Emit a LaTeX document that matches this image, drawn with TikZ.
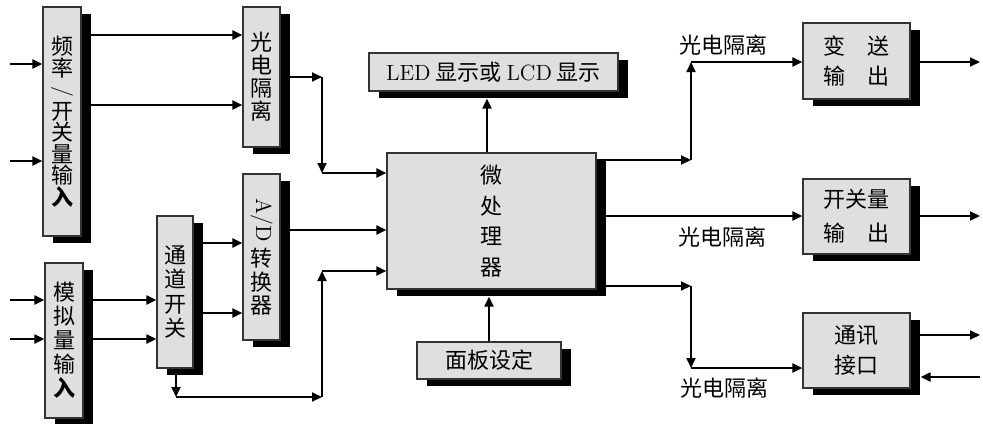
\documentclass[tikz,border=0pt]{standalone}
\usepackage{fontspec}
\usepackage{graphicx}
\newfontfamily\cjk{Noto Sans CJK SC}
\usetikzlibrary{arrows.meta}
\usetikzlibrary{shadows}
\tikzstyle{blk} = [draw=black!80, line width=0.6pt, fill=gray!25, inner sep=0pt, align=center, drop shadow={shadow xshift=5pt, shadow yshift=-3.5pt, fill=black, opacity=1}]
\tikzstyle{arr} = [line width=1pt, -{Triangle[length=5pt,width=4.5pt]}]
\tikzstyle{lbl} = [inner sep=0pt, font=\cjk\fontsize{11}{11}\selectfont]
\tikzset{txt/.style={font=\cjk\fontsize{11}{#1}\selectfont}}

\begin{document}
\begin{tikzpicture}[x=0.5pt, y=-0.5pt]
\useasboundingbox (0,0) rectangle (983,423);

% Define nodes
\node[blk, txt=10.75pt, minimum width=19pt, minimum height=114.5pt]  (fin)   at (62,121.5)  {频\\率\\\rotatebox[origin=c]{-90}{\rmfamily /}\\开\\关\\量\\输\\{\bfseries 入}};
\node[blk, txt=11.5pt, minimum width=18.5pt, minimum height=70pt]    (gd)    at (261.5,77)  {光\\电\\隔\\离};
\node[blk, txt=11.75pt, minimum width=18.5pt, minimum height=83pt]   (ad)    at (261.5,257) {\rotatebox[origin=c]{-90}{\rmfamily A/D}\\[2pt]转\\换\\器};
\node[blk, txt=12.25pt, minimum width=18pt, minimum height=76pt]     (mux)   at (175,292)   {通\\道\\开\\关};
\node[blk, txt=12pt, minimum width=19pt, minimum height=77.5pt]      (ain)   at (64,340.5)  {模\\拟\\量\\输\\{\bfseries 入}};
\node[blk, txt=15.25pt, minimum width=104.5pt, minimum height=68pt]  (cpu)   at (491.5,221) {微\\处\\理\\器};
\node[blk, txt=11pt, minimum width=124.5pt, minimum height=19pt]     (led)   at (493.5,72)  {{\rmfamily LED} 显示或 {\rmfamily LCD} 显示};
\node[blk, txt=11pt, minimum width=72pt, minimum height=18.5pt]      (panel) at (489,360.5) {面板设定};
\node[blk, txt=15pt, minimum width=53.5pt, minimum height=38pt]      (tx)    at (856.5,61)  {变\quad 送\\输\quad 出};
\node[blk, txt=17pt, minimum width=53.5pt, minimum height=37.5pt]    (dout)  at (856.5,216.5) {开关量\\输\quad 出};
\node[blk, txt=15pt, minimum width=53.5pt, minimum height=37.5pt]    (com)   at (856.5,350.5) {通讯\\接口};

\node[lbl] (l1) at (723,45)  {光电隔离};
\node[lbl] (l2) at (722,237) {光电隔离};
\node[lbl] (l3) at (724,388) {光电隔离};

% Joints
\coordinate (j1) at (322,77);
\coordinate (j2) at (322,173);
\coordinate (j3) at (176,397);
\coordinate (j4) at (322,397);
\coordinate (j5) at (322,271);
\coordinate (j6) at (691,160);
\coordinate (j7) at (691,62);
\coordinate (j8) at (691,286);
\coordinate (j9) at (691,368);
\coordinate (i1) at (10,64);
\coordinate (i2) at (10,161);
\coordinate (i3) at (10,300);
\coordinate (i4) at (10,339);
\coordinate (o1) at (980,62);
\coordinate (o2) at (980,216);
\coordinate (o3) at (980,335);
\coordinate (o4) at (980,377);
\coordinate (ledb) at ([yshift=-3.5pt]led.south);
\coordinate (cpub) at ([yshift=-3.5pt]cpu.south);
\coordinate (comr) at ([xshift=5pt]com.east);

% Edges
\draw[arr] (i1) -- (i1 -| fin.west);
\draw[arr] (i2) -- (i2 -| fin.west);
\draw[arr] (fin.east |- 0,35) -- (gd.west |- 0,35);
\draw[arr] (fin.east |- 0,105) -- (gd.west |- 0,105);
\draw[arr] (gd.east |- j1) -- (j1);
\draw[arr] (j1) -- (j2);
\draw[arr] (j2) -- (j2 -| cpu.west);

\draw[arr] (i3) -- (i3 -| ain.west);
\draw[arr] (i4) -- (i4 -| ain.west);
\draw[arr] (ain.east |- i3) -- (mux.west |- i3);
\draw[arr] (ain.east |- i4) -- (mux.west |- i4);
\draw[arr] (mux.east |- 0,243) -- (ad.west |- 0,243);
\draw[arr] (mux.east |- 0,313) -- (ad.west |- 0,313);
\draw[arr] (ad.east |- 0,230) -- (cpu.west |- 0,230);
\draw[arr] (mux.south -| j3) -- (j3);
\draw[arr] (j3) -- (j4);
\draw[arr] (j4) -- (j5);
\draw[arr] (j5) -- (j5 -| cpu.west);

\draw[arr] (cpu.north -| 487,0) -- (ledb -| 487,0);
\draw[arr] (panel.north -| 489,0) -- (cpub -| 489,0);

\draw[arr] (cpu.east |- j6) -- (j6);
\draw[arr] (j6) -- (j7);
\draw[arr] (j7) -- (j7 -| tx.west);
\draw[arr] (cpu.east |- o2) -- (o2 -| dout.west);
\draw[arr] (cpu.east |- j8) -- (j8);
\draw[arr] (j8) -- (j9);
\draw[arr] (j9) -- (j9 -| com.west);

\draw[arr] (tx.east |- o1) -- (o1);
\draw[arr] (dout.east |- o2) -- (o2);
\draw[arr] (com.east |- o3) -- (o3);
\draw[arr] (o4) -- (comr |- o4);
\end{tikzpicture}
\end{document}
